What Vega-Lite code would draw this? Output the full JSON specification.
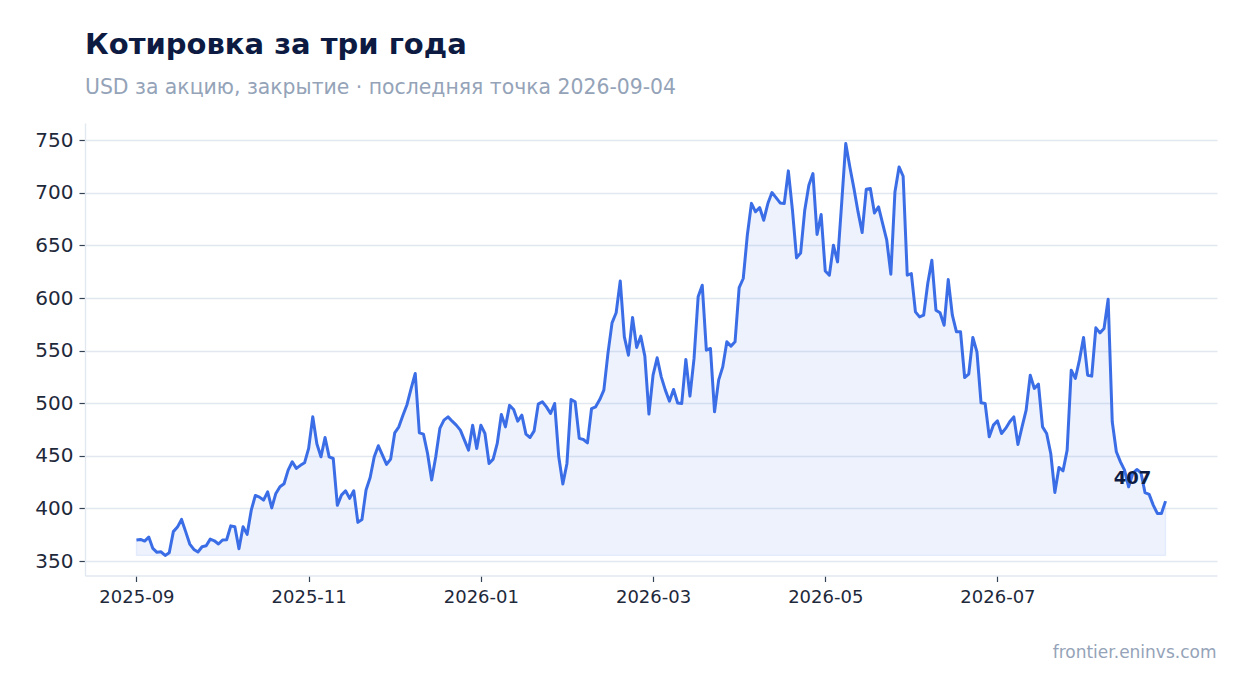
{
  "$schema": "https://vega.github.io/schema/vega-lite/v6.json",
  "width": 1132,
  "height": 452.5,
  "autosize": {"type": "none"},
  "padding": {"left": 85, "top": 123, "right": 30, "bottom": 117.5},
  "background": "white",
  "title": {
    "text": "Котировка за три года",
    "subtitle": "USD за акцию, закрытие · последняя точка 2026-09-04",
    "anchor": "start",
    "frame": "group",
    "font": "DejaVu Sans",
    "fontSize": 29,
    "fontWeight": "bold",
    "color": "#0d1b42",
    "subtitleFont": "DejaVu Sans",
    "subtitleFontSize": 20.4,
    "subtitleColor": "#94a3b8",
    "subtitlePadding": 18.5,
    "offset": 24.3
  },
  "data": {
    "values": [
      {"date": "2025-09-18", "close": 370},
      {"date": "2025-09-19", "close": 370.6},
      {"date": "2025-09-22", "close": 369},
      {"date": "2025-09-23", "close": 372.8},
      {"date": "2025-09-24", "close": 362},
      {"date": "2025-09-25", "close": 358.3},
      {"date": "2025-09-26", "close": 358.8},
      {"date": "2025-09-29", "close": 355.4},
      {"date": "2025-09-30", "close": 357.9},
      {"date": "2025-10-01", "close": 378},
      {"date": "2025-10-02", "close": 382.3},
      {"date": "2025-10-03", "close": 389.6},
      {"date": "2025-10-06", "close": 378},
      {"date": "2025-10-07", "close": 366.2},
      {"date": "2025-10-08", "close": 361.1},
      {"date": "2025-10-09", "close": 358.6},
      {"date": "2025-10-10", "close": 363.6},
      {"date": "2025-10-13", "close": 364.5},
      {"date": "2025-10-14", "close": 370.9},
      {"date": "2025-10-15", "close": 369.3},
      {"date": "2025-10-16", "close": 366.2},
      {"date": "2025-10-17", "close": 370},
      {"date": "2025-10-20", "close": 370.3},
      {"date": "2025-10-21", "close": 383.5},
      {"date": "2025-10-22", "close": 382.6},
      {"date": "2025-10-23", "close": 361.7},
      {"date": "2025-10-24", "close": 382.6},
      {"date": "2025-10-27", "close": 375.4},
      {"date": "2025-10-28", "close": 398.4},
      {"date": "2025-10-29", "close": 412.4},
      {"date": "2025-10-30", "close": 410.8},
      {"date": "2025-10-31", "close": 408},
      {"date": "2025-11-03", "close": 415.8},
      {"date": "2025-11-04", "close": 400.6},
      {"date": "2025-11-05", "close": 414.3},
      {"date": "2025-11-06", "close": 420.6},
      {"date": "2025-11-07", "close": 423.5},
      {"date": "2025-11-10", "close": 436.5},
      {"date": "2025-11-11", "close": 444.4},
      {"date": "2025-11-12", "close": 438.1},
      {"date": "2025-11-13", "close": 441},
      {"date": "2025-11-14", "close": 443.4},
      {"date": "2025-11-17", "close": 457.1},
      {"date": "2025-11-18", "close": 487.1},
      {"date": "2025-11-19", "close": 461.5},
      {"date": "2025-11-20", "close": 449.1},
      {"date": "2025-11-21", "close": 467.5},
      {"date": "2025-11-24", "close": 449.1},
      {"date": "2025-11-25", "close": 447.5},
      {"date": "2025-11-26", "close": 403},
      {"date": "2025-11-27", "close": 412.7},
      {"date": "2025-11-28", "close": 416.8},
      {"date": "2025-12-01", "close": 409.6},
      {"date": "2025-12-02", "close": 416.8},
      {"date": "2025-12-03", "close": 386.8},
      {"date": "2025-12-04", "close": 389.6},
      {"date": "2025-12-05", "close": 417.5},
      {"date": "2025-12-08", "close": 429.5},
      {"date": "2025-12-09", "close": 449.1},
      {"date": "2025-12-10", "close": 459.6},
      {"date": "2025-12-11", "close": 450.7},
      {"date": "2025-12-12", "close": 441.9},
      {"date": "2025-12-15", "close": 446.9},
      {"date": "2025-12-16", "close": 471.9},
      {"date": "2025-12-17", "close": 477.6},
      {"date": "2025-12-18", "close": 488.7},
      {"date": "2025-12-19", "close": 498.9},
      {"date": "2025-12-22", "close": 514.1},
      {"date": "2025-12-23", "close": 528.3},
      {"date": "2025-12-24", "close": 471.9},
      {"date": "2025-12-25", "close": 470.7},
      {"date": "2025-12-26", "close": 452.3},
      {"date": "2025-12-29", "close": 427},
      {"date": "2025-12-30", "close": 449.1},
      {"date": "2025-12-31", "close": 476.1},
      {"date": "2026-01-01", "close": 484},
      {"date": "2026-01-02", "close": 487.1},
      {"date": "2026-01-05", "close": 483},
      {"date": "2026-01-06", "close": 479.2},
      {"date": "2026-01-07", "close": 474.5},
      {"date": "2026-01-08", "close": 465},
      {"date": "2026-01-09", "close": 455.5},
      {"date": "2026-01-12", "close": 479.2},
      {"date": "2026-01-13", "close": 457.1},
      {"date": "2026-01-14", "close": 479.2},
      {"date": "2026-01-15", "close": 471.3},
      {"date": "2026-01-16", "close": 442.8},
      {"date": "2026-01-19", "close": 446.9},
      {"date": "2026-01-20", "close": 461.8},
      {"date": "2026-01-21", "close": 489.4},
      {"date": "2026-01-22", "close": 477.6},
      {"date": "2026-01-23", "close": 498},
      {"date": "2026-01-26", "close": 494.1},
      {"date": "2026-01-27", "close": 483},
      {"date": "2026-01-28", "close": 488.7},
      {"date": "2026-01-29", "close": 470.7},
      {"date": "2026-01-30", "close": 467.5},
      {"date": "2026-02-02", "close": 473.8},
      {"date": "2026-02-03", "close": 499.2},
      {"date": "2026-02-04", "close": 501.4},
      {"date": "2026-02-05", "close": 496.6},
      {"date": "2026-02-06", "close": 490.3},
      {"date": "2026-02-09", "close": 499.8},
      {"date": "2026-02-10", "close": 449.1},
      {"date": "2026-02-11", "close": 423.2},
      {"date": "2026-02-12", "close": 442.8},
      {"date": "2026-02-13", "close": 503.5},
      {"date": "2026-02-16", "close": 501.4},
      {"date": "2026-02-17", "close": 466.6},
      {"date": "2026-02-18", "close": 465.6},
      {"date": "2026-02-19", "close": 462.4},
      {"date": "2026-02-20", "close": 495},
      {"date": "2026-02-23", "close": 496.6},
      {"date": "2026-02-24", "close": 503.5},
      {"date": "2026-02-25", "close": 512.5},
      {"date": "2026-02-26", "close": 547.4},
      {"date": "2026-02-27", "close": 576.4},
      {"date": "2026-03-02", "close": 586},
      {"date": "2026-03-03", "close": 616.3},
      {"date": "2026-03-04", "close": 563.1},
      {"date": "2026-03-05", "close": 545.7},
      {"date": "2026-03-06", "close": 581.6},
      {"date": "2026-03-09", "close": 553.1},
      {"date": "2026-03-10", "close": 563.8},
      {"date": "2026-03-11", "close": 544.8},
      {"date": "2026-03-12", "close": 489.7},
      {"date": "2026-03-13", "close": 526.7},
      {"date": "2026-03-16", "close": 543.2},
      {"date": "2026-03-17", "close": 525.1},
      {"date": "2026-03-18", "close": 512.5},
      {"date": "2026-03-19", "close": 502},
      {"date": "2026-03-20", "close": 513.1},
      {"date": "2026-03-23", "close": 500.3},
      {"date": "2026-03-24", "close": 499.8},
      {"date": "2026-03-25", "close": 541.7},
      {"date": "2026-03-26", "close": 506.8},
      {"date": "2026-03-27", "close": 542.6},
      {"date": "2026-03-30", "close": 601.2},
      {"date": "2026-03-31", "close": 612.2},
      {"date": "2026-04-01", "close": 550.5},
      {"date": "2026-04-02", "close": 552.1},
      {"date": "2026-04-03", "close": 491.9},
      {"date": "2026-04-06", "close": 522},
      {"date": "2026-04-07", "close": 534.6},
      {"date": "2026-04-08", "close": 558.4},
      {"date": "2026-04-09", "close": 554.3},
      {"date": "2026-04-10", "close": 558.4},
      {"date": "2026-04-13", "close": 610},
      {"date": "2026-04-14", "close": 618.6},
      {"date": "2026-04-15", "close": 660},
      {"date": "2026-04-16", "close": 690},
      {"date": "2026-04-17", "close": 682},
      {"date": "2026-04-20", "close": 686.1},
      {"date": "2026-04-21", "close": 674},
      {"date": "2026-04-22", "close": 689.8},
      {"date": "2026-04-23", "close": 700.3},
      {"date": "2026-04-24", "close": 695.5},
      {"date": "2026-04-27", "close": 690.4},
      {"date": "2026-04-28", "close": 689.8},
      {"date": "2026-04-29", "close": 720.9},
      {"date": "2026-04-30", "close": 683.5},
      {"date": "2026-05-01", "close": 638.2},
      {"date": "2026-05-04", "close": 642.9},
      {"date": "2026-05-05", "close": 683.5},
      {"date": "2026-05-06", "close": 707.2},
      {"date": "2026-05-07", "close": 718.3},
      {"date": "2026-05-08", "close": 660.4},
      {"date": "2026-05-11", "close": 679.4},
      {"date": "2026-05-12", "close": 625.8},
      {"date": "2026-05-13", "close": 621.7},
      {"date": "2026-05-14", "close": 650.2},
      {"date": "2026-05-15", "close": 634.4},
      {"date": "2026-05-18", "close": 689.8},
      {"date": "2026-05-19", "close": 746.9},
      {"date": "2026-05-20", "close": 724.6},
      {"date": "2026-05-21", "close": 704.1},
      {"date": "2026-05-22", "close": 681.9},
      {"date": "2026-05-25", "close": 662.3},
      {"date": "2026-05-26", "close": 703.4},
      {"date": "2026-05-27", "close": 704.1},
      {"date": "2026-05-28", "close": 680.9},
      {"date": "2026-05-29", "close": 686.6},
      {"date": "2026-06-01", "close": 670.8},
      {"date": "2026-06-02", "close": 655},
      {"date": "2026-06-03", "close": 622.7},
      {"date": "2026-06-04", "close": 700.9},
      {"date": "2026-06-05", "close": 724.6},
      {"date": "2026-06-08", "close": 715.8},
      {"date": "2026-06-09", "close": 621.7},
      {"date": "2026-06-10", "close": 623.3},
      {"date": "2026-06-11", "close": 586.9},
      {"date": "2026-06-12", "close": 582.1},
      {"date": "2026-06-15", "close": 583.7},
      {"date": "2026-06-16", "close": 613.9},
      {"date": "2026-06-17", "close": 636},
      {"date": "2026-06-18", "close": 588.5},
      {"date": "2026-06-19", "close": 586},
      {"date": "2026-06-22", "close": 574.2},
      {"date": "2026-06-23", "close": 617.6},
      {"date": "2026-06-24", "close": 583.7},
      {"date": "2026-06-25", "close": 567.9},
      {"date": "2026-06-26", "close": 567.9},
      {"date": "2026-06-29", "close": 524.5},
      {"date": "2026-06-30", "close": 527.7},
      {"date": "2026-07-01", "close": 562.5},
      {"date": "2026-07-02", "close": 548.9},
      {"date": "2026-07-03", "close": 500.4},
      {"date": "2026-07-06", "close": 499.8},
      {"date": "2026-07-07", "close": 468.1},
      {"date": "2026-07-08", "close": 479.2},
      {"date": "2026-07-09", "close": 483.3},
      {"date": "2026-07-10", "close": 471.3},
      {"date": "2026-07-13", "close": 476.1},
      {"date": "2026-07-14", "close": 482.4},
      {"date": "2026-07-15", "close": 487.1},
      {"date": "2026-07-16", "close": 460.9},
      {"date": "2026-07-17", "close": 477.6},
      {"date": "2026-07-20", "close": 493.5},
      {"date": "2026-07-21", "close": 526.7},
      {"date": "2026-07-22", "close": 514.1},
      {"date": "2026-07-23", "close": 518.2},
      {"date": "2026-07-24", "close": 477.6},
      {"date": "2026-07-27", "close": 471.3},
      {"date": "2026-07-28", "close": 452.3},
      {"date": "2026-07-29", "close": 415.3},
      {"date": "2026-07-30", "close": 439},
      {"date": "2026-07-31", "close": 435.8},
      {"date": "2026-08-03", "close": 455.5},
      {"date": "2026-08-04", "close": 531.5},
      {"date": "2026-08-05", "close": 523.6},
      {"date": "2026-08-06", "close": 541},
      {"date": "2026-08-07", "close": 562.5},
      {"date": "2026-08-10", "close": 526.7},
      {"date": "2026-08-11", "close": 525.8},
      {"date": "2026-08-12", "close": 571.7},
      {"date": "2026-08-13", "close": 566.9},
      {"date": "2026-08-14", "close": 571},
      {"date": "2026-08-17", "close": 598.9},
      {"date": "2026-08-18", "close": 482.4},
      {"date": "2026-08-19", "close": 453.9},
      {"date": "2026-08-20", "close": 444.3},
      {"date": "2026-08-21", "close": 436.4},
      {"date": "2026-08-24", "close": 420.6},
      {"date": "2026-08-25", "close": 433.3},
      {"date": "2026-08-26", "close": 437.1},
      {"date": "2026-08-27", "close": 434},
      {"date": "2026-08-28", "close": 415},
      {"date": "2026-08-31", "close": 413.4},
      {"date": "2026-09-01", "close": 403.2},
      {"date": "2026-09-02", "close": 395.3},
      {"date": "2026-09-03", "close": 395.3},
      {"date": "2026-09-04", "close": 407}
    ]
  },
  "transform": [
    {"window": [{"op": "row_number", "as": "session"}], "sort": [{"field": "date", "order": "ascending"}]}
  ],
  "encoding": {
    "x": {
      "field": "session",
      "type": "quantitative",
      "scale": {"domain": [-11.55, 264.55], "nice": false, "zero": false},
      "axis": {
        "values": [1, 43, 85, 127, 169, 211],
        "labelExpr": "datum.value == 1 ? '2025-09' : datum.value == 43 ? '2025-11' : datum.value == 85 ? '2026-01' : datum.value == 127 ? '2026-03' : datum.value == 169 ? '2026-05' : '2026-07'",
        "labelAngle": 0,
        "labelFont": "DejaVu Sans",
        "labelFontSize": 18,
        "labelColor": "#1e293b",
        "labelPadding": 7,
        "labelFlush": false,
        "tickSize": 6,
        "tickWidth": 1.2,
        "tickColor": "#334155",
        "domainColor": "#e2e8f0",
        "domainWidth": 1.4,
        "grid": false,
        "title": "frontier.eninvs.com",
        "titleFont": "DejaVu Sans",
        "titleFontSize": 17,
        "titleFontWeight": "normal",
        "titleColor": "#94a3b8",
        "titleAnchor": "end",
        "titleAlign": "right",
        "titleBaseline": "alphabetic",
        "titleX": 1131,
        "titleY": 82
      }
    },
    "y": {
      "field": "close",
      "type": "quantitative",
      "scale": {"domain": [336.3, 766.4], "nice": false, "zero": false},
      "axis": {
        "values": [350, 400, 450, 500, 550, 600, 650, 700, 750],
        "labelFont": "DejaVu Sans",
        "labelFontSize": 20,
        "labelColor": "#1e293b",
        "labelPadding": 6,
        "tickSize": 6,
        "tickWidth": 1.2,
        "tickColor": "#334155",
        "domainColor": "#e2e8f0",
        "domainWidth": 1.4,
        "grid": true,
        "gridColor": "#e2e8f0",
        "gridWidth": 1.4,
        "title": null
      }
    }
  },
  "layer": [
    {
      "mark": {
        "type": "area",
        "fill": "#3b6ee6",
        "fillOpacity": 0.09,
        "stroke": "#3b6ee6",
        "strokeOpacity": 0.09,
        "strokeWidth": 1.4
      },
      "encoding": {"y2": {"datum": 355.4}}
    },
    {
      "mark": {
        "type": "line",
        "color": "#3b6ee6",
        "strokeWidth": 3,
        "strokeJoin": "round"
      }
    },
    {
      "transform": [{"filter": "datum.date == '2026-09-04'"}],
      "mark": {
        "type": "text",
        "font": "DejaVu Sans",
        "fontSize": 18,
        "fontWeight": "bold",
        "color": "#0d1b42",
        "align": "center",
        "baseline": "middle",
        "dx": -33,
        "dy": -22
      },
      "encoding": {"text": {"field": "close", "type": "quantitative", "format": ".0f"}}
    }
  ],
  "config": {
    "view": {"stroke": null},
    "font": "DejaVu Sans"
  }
}
